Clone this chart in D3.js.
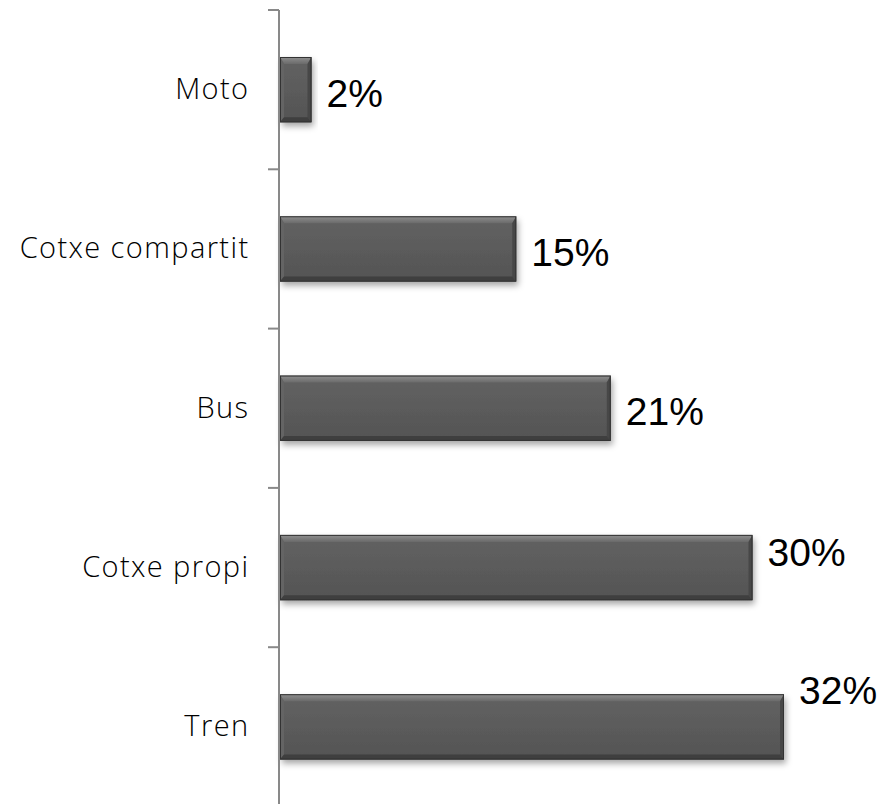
<!DOCTYPE html>
<html>
<head>
<meta charset="utf-8">
<script src="https://cdn.jsdelivr.net/npm/d3@7"></script>
<style>
  html, body { margin: 0; padding: 0; background: #fff; }
  svg { display: block; }
</style>
</head>
<body>
<svg id="chart" width="891" height="804"></svg>
<script>
// ---- data ----
const categories = ["Moto", "Cotxe compartit", "Bus", "Cotxe propi", "Tren"];
const values = [2, 15, 21, 30, 32];
const valueLabels = ["2%", "15%", "21%", "30%", "32%"];

// ---- layout / style constants ----
const W = 891, H = 804;
const axisX = 279;
const plotTop = 10, plotBottom = 806.5;
const xMax = 35;
const labelDy = [17, 17, 17, -2, -23]; // label nudges (baseline relative to bar centre)
const labelDx = 15;

const svg = d3.select("#chart");
const defs = svg.append("defs");

const shadow = defs.append("filter").attr("id", "shadow")
  .attr("x", "-10%").attr("y", "-20%").attr("width", "130%").attr("height", "160%");
shadow.append("feDropShadow").attr("dx", 2).attr("dy", 4)
  .attr("stdDeviation", 3).attr("flood-color", "#000").attr("flood-opacity", 0.35);

const gMain = defs.append("linearGradient").attr("id", "gMain")
  .attr("x1", 0).attr("y1", 0).attr("x2", 0).attr("y2", 1);
gMain.append("stop").attr("offset", "0%").attr("stop-color", "#626262");
gMain.append("stop").attr("offset", "100%").attr("stop-color", "#545454");

const gTop = defs.append("linearGradient").attr("id", "gTop")
  .attr("x1", 0).attr("y1", 0).attr("x2", 0).attr("y2", 1);
gTop.append("stop").attr("offset", "0%").attr("stop-color", "#909090");
gTop.append("stop").attr("offset", "100%").attr("stop-color", "#6a6a6a");

const y = d3.scaleBand()
  .domain(categories)
  .range([plotTop, plotBottom])
  .paddingInner(0.59)
  .paddingOuter(0.295);

const x = d3.scaleLinear().domain([0, xMax]).range([axisX + 1, axisX + 1 + 15.75 * xMax]);

const data = categories.map((c, i) => ({ cat: c, v: values[i], label: valueLabels[i], i }));

// bars
const bars = svg.append("g").selectAll("g.bar").data(data).join("g").attr("class", "bar");

bars.each(function (d) {
  const g = d3.select(this);
  const x0 = x(0), x1 = x(d.v), y0 = y(d.cat), y1 = y(d.cat) + y.bandwidth();
  const bt = 7, bs = 4, bb = 5;
  g.append("rect").attr("x", x0).attr("y", y0).attr("width", x1 - x0).attr("height", y1 - y0)
    .attr("fill", "url(#gMain)").attr("filter", "url(#shadow)");
  const poly = (pts, fill) => g.append("polygon")
    .attr("points", pts.map(p => p.join(",")).join(" ")).attr("fill", fill);
  poly([[x0, y0], [x1, y0], [x1 - bs, y0 + bt], [x0 + bs, y0 + bt]], "url(#gTop)");
  poly([[x0, y0], [x0 + bs, y0 + bt], [x0 + bs, y1 - bb], [x0, y1]], "#646464");
  poly([[x1, y0], [x1, y1], [x1 - bs, y1 - bb], [x1 - bs, y0 + bt]], "#474747");
  poly([[x0, y1], [x1, y1], [x1 - bs, y1 - bb], [x0 + bs, y1 - bb]], "#3f3f3f");
  g.append("rect").attr("x", x0 + 0.5).attr("y", y0 + 0.5).attr("width", x1 - x0 - 1).attr("height", y1 - y0 - 1)
    .attr("fill", "none").attr("stroke", "#333").attr("stroke-width", 1);
});

// value labels
svg.append("g").selectAll("text").data(data).join("text")
  .attr("x", d => x(d.v) + labelDx)
  .attr("y", d => y(d.cat) + y.bandwidth() / 2 + labelDy[d.i])
  .attr("font-family", "'Liberation Sans', Arial, sans-serif")
  .attr("font-size", 39)
  .attr("fill", "#000")
  .text(d => d.label);

// axis
const tickPos = categories.map(c => y(c) - y.step() * y.paddingOuter());
const axisG = svg.append("g");
axisG.append("line").attr("x1", axisX).attr("x2", axisX).attr("y1", plotTop).attr("y2", plotBottom)
  .attr("stroke", "#898989").attr("stroke-width", 2);
axisG.selectAll("line.tick").data(tickPos).join("line").attr("class", "tick")
  .attr("x1", axisX - 11).attr("x2", axisX).attr("y1", d => d).attr("y2", d => d)
  .attr("stroke", "#898989").attr("stroke-width", 2);

// category labels
svg.append("g").selectAll("text").data(data).join("text")
  .attr("x", 249.5)
  .attr("y", d => y(d.cat) + y.bandwidth() / 2 + 9.5)
  .attr("text-anchor", "end")
  .attr("font-family", "'Open Sans', sans-serif")
  .attr("font-weight", 300)
  .attr("font-size", 29)
  .attr("letter-spacing", "1.4px")
  .attr("fill", "#000")
  .text(d => d.cat);
</script>
</body>
</html>
